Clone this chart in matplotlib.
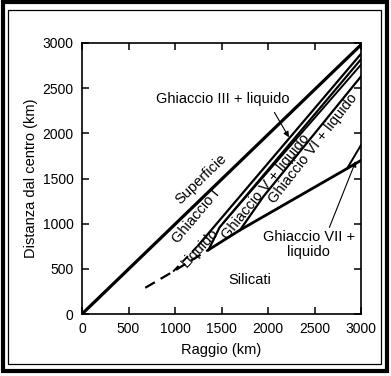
import matplotlib
matplotlib.use('Agg')
import matplotlib.pyplot as plt
from matplotlib.patches import Rectangle

plt.rcParams['font.family'] = ['Liberation Sans', 'DejaVu Sans']

# boundaries (raggio km -> distanza dal centro km)
superficie_x = [0, 3000]
superficie_y = [0, 2980]
silicati_dash_x = [680, 980, 1360]
silicati_dash_y = [290, 470, 710]
silicati_x = [1360, 1700, 2850, 3000]
silicati_y = [710, 930, 1610, 1700]
ghiaccio1_dash_x = [980, 1250]
ghiaccio1_dash_y = [470, 760]
ghiaccio1_x = [1250, 3000]
ghiaccio1_y = [760, 2880]
liquido_x = [1360, 1480, 3000]
liquido_y = [710, 960, 2820]
ghiaccio3_x = [1520, 3000]
ghiaccio3_y = [1010, 2760]
ghiaccio5_x = [1700, 1950, 3000]
ghiaccio5_y = [930, 1300, 2630]
ghiaccio7_x = [2850, 3000]
ghiaccio7_y = [1610, 1870]

ticks = [0, 500, 1000, 1500, 2000, 2500, 3000]

fig = plt.figure(figsize=(3.91, 3.76), dpi=100)
ax = fig.add_axes([82/391, 1-314/376, 279/391, 271/376])

ax.plot(superficie_x, superficie_y, color='black', lw=2.3)
ax.plot(silicati_dash_x, silicati_dash_y, color='black', lw=1.6, ls=(0, (5, 3)))
ax.plot(silicati_x, silicati_y, color='black', lw=2.0)
ax.plot(ghiaccio1_dash_x, ghiaccio1_dash_y, color='black', lw=1.4, ls=(0, (4, 3)))
ax.plot(ghiaccio1_x, ghiaccio1_y, color='black', lw=1.6)
ax.plot(liquido_x, liquido_y, color='black', lw=1.6)
ax.plot(ghiaccio3_x, ghiaccio3_y, color='black', lw=1.4)
ax.plot(ghiaccio5_x, ghiaccio5_y, color='black', lw=1.6)
ax.plot(ghiaccio7_x, ghiaccio7_y, color='black', lw=1.4)

ax.set_xlim(0, 3000)
ax.set_ylim(0, 3000)
ax.set_xticks(ticks)
ax.set_yticks(ticks)
ax.tick_params(direction='in', length=5, width=1.1, top=True, right=True,
               labelsize=10, pad=6)
for s in ax.spines.values():
    s.set_linewidth(1.2)
ax.set_xlabel('Raggio (km)', fontsize=10.5, labelpad=5)
ax.set_ylabel('Distanza dal centro (km)', fontsize=10.5, labelpad=3)

kw = dict(ha='center', va='center', fontsize=10.5, rotation_mode='anchor')
ax.text(1280, 1490, 'Superficie', rotation=44, **kw)
ax.text(1230, 1085, 'Ghiaccio I', rotation=50, **kw)
ax.text(1265, 730, 'Liquido', rotation=47, **kw)
ax.text(1975, 1409, 'Ghiaccio V + liquido', rotation=51, **kw)
ax.text(2487, 1834, 'Ghiaccio VI + liquido', rotation=52, **kw)
ax.text(1516, 2380, 'Ghiaccio III + liquido', **kw)
ax.text(2440, 765, 'Ghiaccio VII +\nliquido', ha='center', va='center',
        fontsize=10.5, linespacing=1.1)
ax.text(1799, 376, 'Silicati', **kw)

arrow = dict(arrowstyle='-|>', lw=0.8, color='black', mutation_scale=8)
ax.annotate('', xy=(2240, 1930), xytext=(2054, 2258), arrowprops=arrow)
ax.annotate('', xy=(2955, 1720), xytext=(2649, 930), arrowprops=arrow)

# scanned page frame
fig.patches.append(Rectangle((2.5/391, 1-371/376), 384/391, 369/376,
                             transform=fig.transFigure, fill=False,
                             lw=3.0, ec='black'))
fig.patches.append(Rectangle((8/391, 1-364/376), 373/391, 354/376,
                             transform=fig.transFigure, fill=False,
                             lw=0.9, ec='black'))

fig.savefig('out.png', dpi=100)
